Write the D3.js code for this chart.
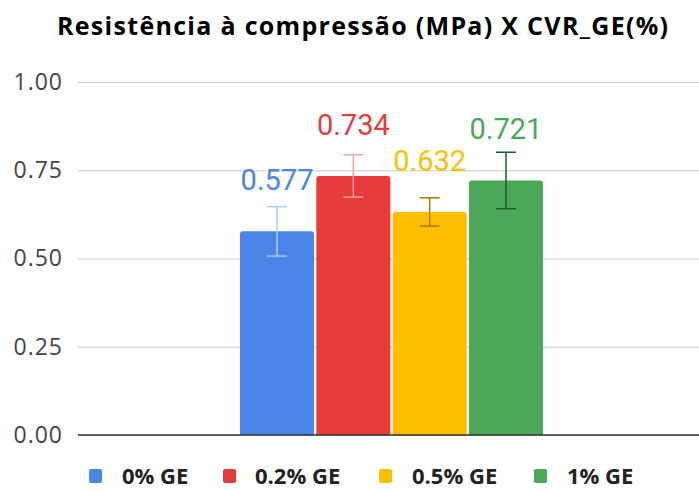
<!DOCTYPE html>
<html><head><meta charset="utf-8">
<script src="https://cdn.jsdelivr.net/npm/d3@7"></script>
<style>body{margin:0;background:#fff}svg{display:block}</style>
</head><body>
<svg id="c" width="699" height="490"></svg>
<script>
const title = "Resistência à compressão (MPa) X CVR_GE(%)";
const series = ["0% GE", "0.2% GE", "0.5% GE", "1% GE"];
const values = [0.577, 0.734, 0.632, 0.721];
const errors = [0.07, 0.06, 0.04, 0.08];
const colors = ["#4a86e8", "#e83b3b", "#ffbf00", "#4aa858"];
const errColors = ["#afc9f5", "#f2a3a3", "#9c7b00", "#1e5a2b"];
const yTicks = [0, 0.25, 0.5, 0.75, 1.0];

const svg = d3.select("#c");
const plot = {left: 78, right: 699, top: 82, bottom: 435};

const y = d3.scaleLinear().domain([0, 1]).range([plot.bottom, plot.top]);
const x = d3.scaleBand().domain(series).range([240, 543]).paddingInner(0.03);

// title
svg.append("text").attr("x", 57).attr("y", 35)
  .attr("font-family", "Open Sans").attr("font-weight", "bold").attr("font-size", 25)
  .attr("letter-spacing", 1.3).attr("fill", "#000").text(title);

// gridlines + y axis
const yAxis = d3.axisLeft(y).tickValues(yTicks).tickFormat(d3.format(".2f"))
  .tickSize(-(plot.right - plot.left)).tickPadding(15);
const ga = svg.append("g").attr("transform", `translate(${plot.left},0)`).call(yAxis);
ga.select(".domain").remove();
ga.selectAll(".tick line").attr("stroke", "#cccccc").attr("stroke-width", 1);
ga.selectAll(".tick text").attr("font-family", "Open Sans").attr("font-size", 23)
  .attr("letter-spacing", 1).attr("fill", "#444");

// bars
const bw = x.bandwidth();
svg.append("g").selectAll("path").data(series).join("path")
  .attr("fill", (d, i) => colors[i])
  .attr("d", (d, i) => {
    const x0 = x(d), x1 = x(d) + bw, y0 = y(values[i]), yb = y(0), r = 3;
    return `M${x0},${yb}V${y0 + r}Q${x0},${y0} ${x0 + r},${y0}H${x1 - r}Q${x1},${y0} ${x1},${y0 + r}V${yb}Z`;
  });

// baseline
svg.append("line").attr("x1", plot.left).attr("x2", plot.right)
  .attr("y1", y(0)).attr("y2", y(0)).attr("stroke", "#333").attr("stroke-width", 1.5);

// error bars
const eg = svg.append("g");
series.forEach((s, i) => {
  const cx = x(s) + bw / 2, top = y(values[i] + errors[i]), bot = y(values[i] - errors[i]);
  const g = eg.append("g").attr("stroke", errColors[i]).attr("stroke-width", 1.5);
  g.append("line").attr("x1", cx).attr("x2", cx).attr("y1", top).attr("y2", bot);
  g.append("line").attr("x1", cx - 10).attr("x2", cx + 10).attr("y1", top).attr("y2", top);
  g.append("line").attr("x1", cx - 10).attr("x2", cx + 10).attr("y1", bot).attr("y2", bot);
});

// value labels
svg.append("g").selectAll("text").data(series).join("text")
  .attr("x", d => x(d) + bw / 2)
  .attr("y", (d, i) => y(values[i]) - 41)
  .attr("text-anchor", "middle").attr("font-family", "Roboto").attr("font-size", 29)
  .attr("fill", (d, i) => colors[i]).text((d, i) => values[i].toFixed(3));

// legend
const legSq = [89, 223, 379, 534];
const legTx = [122, 255, 412, 567];
const lg = svg.append("g");
series.forEach((s, i) => {
  lg.append("rect").attr("x", legSq[i]).attr("y", 469).attr("width", 13).attr("height", 14)
    .attr("rx", 2).attr("fill", colors[i]);
  lg.append("text").attr("x", legTx[i]).attr("y", 484)
    .attr("font-family", "Open Sans").attr("font-weight", "bold").attr("font-size", 22)
    .attr("fill", "#222").text(s);
});
</script>
</body></html>
